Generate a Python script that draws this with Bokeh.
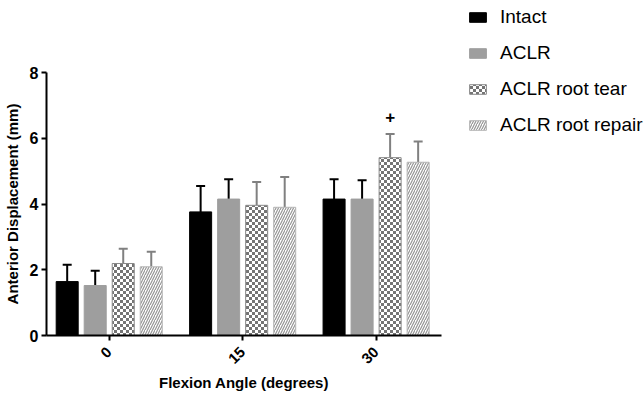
import math, zlib, struct, base64
from bokeh.plotting import figure
from bokeh.models import (Range1d, FixedTicker, Legend, LegendItem, Whisker, TeeHead,
                          ColumnDataSource, ImageURLTexture)
from bokeh.core.properties import value
from bokeh.embed import file_html
from bokeh.resources import INLINE

# ---- data ----
angles = ["0", "15", "30"]
groups = ["Intact", "ACLR", "ACLR root tear", "ACLR root repair"]
intact = [1.64, 3.76, 4.15]
intact_err = [0.51, 0.79, 0.60]
aclr = [1.52, 4.15, 4.15]
aclr_err = [0.45, 0.60, 0.57]
tear = [2.19, 3.96, 5.41]
tear_err = [0.45, 0.71, 0.72]
repair = [2.09, 3.90, 5.27]
repair_err = [0.46, 0.92, 0.63]
sig_angle = ["30"]
sig_group = ["ACLR root tear"]
sig_y = [6.64]
sig_text = ["+"]
y_ticks = [0, 2, 4, 6, 8]

FONT = "Liberation Sans"
offsets = [-0.315, -0.105, 0.105, 0.315]
bar_w = 0.165


def checker_png(n=3, dark=(0x74, 0x74, 0x74), light=(0xff, 0xff, 0xff)):
    size = 2 * n
    raw = b""
    for yy in range(size):
        row = b"\x00"
        for xx in range(size):
            c = dark if ((xx // n) + (yy // n)) % 2 == 0 else light
            row += bytes(c)
        raw += row

    def chunk(t, d):
        c = struct.pack(">I", len(d)) + t + d
        return c + struct.pack(">I", zlib.crc32(t + d) & 0xffffffff)

    png = b"\x89PNG\r\n\x1a\n" + chunk(b"IHDR", struct.pack(">IIBBBBB", size, size, 8, 2, 0, 0, 0))
    png += chunk(b"IDAT", zlib.compress(raw)) + chunk(b"IEND", b"")
    return "data:image/png;base64," + base64.b64encode(png).decode()


checker = ImageURLTexture(url=checker_png(), repetition="repeat")

p = figure(frame_width=395, frame_height=263, output_backend="svg", toolbar_location=None,
           x_range=Range1d(-0.47, 2.49), y_range=Range1d(0, 8),
           min_border_left=39, min_border_right=0, min_border_top=72, min_border_bottom=50)
p.grid.visible = False
p.outline_line_color = None

styles = [
    dict(fill_color="black", line_color="black"),
    dict(fill_color="#9e9e9e", line_color="#9e9e9e"),
    dict(fill_color="white", line_color="#8a8a8a", hatch_pattern=value("chk"),
         hatch_extra={"chk": checker}, hatch_color="#7a7a7a", hatch_scale=6),
    dict(fill_color="white", line_color="#b5b5b5", hatch_pattern=value("/"), hatch_color="#959595",
         hatch_scale=5, hatch_weight=1.2),
]
err_colors = ["black", "black", "#808080", "#808080"]
vals = [intact, aclr, tear, repair]
errs = [intact_err, aclr_err, tear_err, repair_err]

items = []
for gi, g in enumerate(groups):
    xs = [i + offsets[gi] for i in range(len(angles))]
    tops = [v + e for v, e in zip(vals[gi], errs[gi])]
    src = ColumnDataSource(dict(x=xs, v=vals[gi], top=tops))
    wh = Whisker(base="x", lower="v", upper="top", source=src, dimension="height",
                 line_color=err_colors[gi], line_width=2, lower_head=None,
                 upper_head=TeeHead(size=9, line_color=err_colors[gi], line_width=2))
    p.add_layout(wh)
    r = p.vbar(x="x", top="v", width=bar_w, bottom=0, source=src, line_width=1, **styles[gi])
    items.append(LegendItem(label=g, renderers=[r]))

sx = [angles.index(a) + offsets[groups.index(g)] for a, g in zip(sig_angle, sig_group)]
p.text(x=sx, y=sig_y, text=sig_text, text_align="center", text_baseline="middle",
       text_font=value(FONT), text_font_size="17px", text_font_style="bold", text_color="black")

legend = Legend(items=items, location=(26, 199), glyph_width=21, glyph_height=12,
                label_standoff=12, spacing=14, padding=0, margin=0,
                border_line_alpha=0, background_fill_alpha=0,
                label_text_font=FONT, label_text_font_size="19px", label_text_color="black")
p.add_layout(legend, "right")

for ax in (p.xaxis[0], p.yaxis[0]):
    ax.axis_line_width = 2
    ax.axis_line_color = "black"
    ax.major_tick_line_width = 2
    ax.major_tick_line_color = "black"
    ax.major_tick_out = 5
    ax.major_tick_in = 0
    ax.minor_tick_line_color = None
    ax.major_label_text_font = FONT
    ax.major_label_text_font_style = "bold"
    ax.major_label_text_font_size = "16px"
    ax.major_label_text_color = "black"
    ax.axis_label_text_font = FONT
    ax.axis_label_text_font_style = "bold"
    ax.axis_label_text_font_size = "15px"
    ax.axis_label_text_color = "black"

p.xaxis.ticker = FixedTicker(ticks=list(range(len(angles))))
p.xaxis.major_label_overrides = {i: a for i, a in enumerate(angles)}
p.xaxis.major_label_orientation = math.pi / 4
p.xaxis.major_label_text_font_size = "15px"
p.xaxis.major_label_standoff = 9
p.xaxis.axis_label = "Flexion Angle (degrees)"
p.xaxis.axis_label_standoff = 3

p.yaxis.ticker = FixedTicker(ticks=y_ticks)
p.yaxis.major_label_standoff = 3
p.yaxis.axis_label = "Anterior Displacement (mm)"
p.yaxis.axis_label_standoff = 6

open("out.html", "w").write(file_html(p, INLINE))
